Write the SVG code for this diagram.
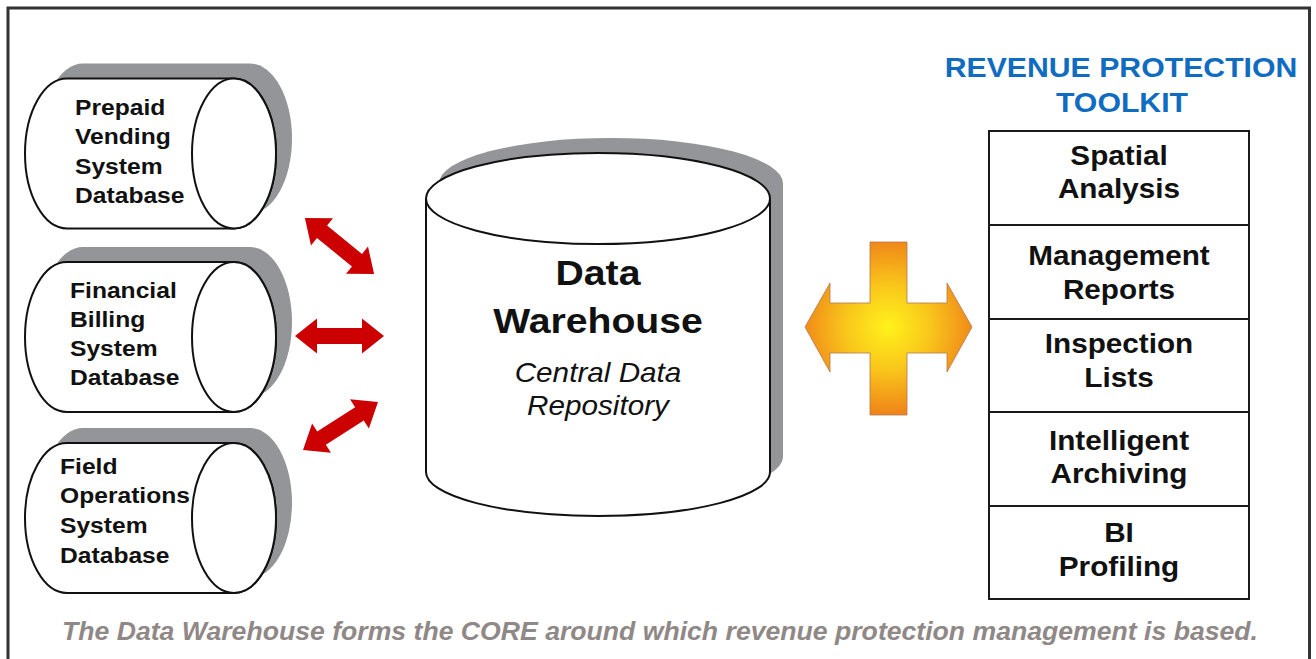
<svg xmlns="http://www.w3.org/2000/svg" width="1316" height="659" viewBox="0 0 1316 659">
<style>
.frame{fill:#fff;stroke:#333;stroke-width:3}
.body{fill:#fff;stroke:#111;stroke-width:2}
.shadow{fill:#939598;stroke:none}
.lbl{font-family:"Liberation Sans",Arial,sans-serif;font-weight:bold;fill:#111}
.cyl{font-size:22px}
.dw{font-size:35px;text-anchor:middle}
.sub{font-family:"Liberation Sans",Arial,sans-serif;font-style:italic;font-size:27px;fill:#111;text-anchor:middle}
.title{font-family:"Liberation Sans",Arial,sans-serif;font-weight:bold;font-size:27px;fill:#0f6cc0;text-anchor:middle}
.box{font-size:27px;text-anchor:middle}
.cell{fill:#fff;stroke:#1a1a1a;stroke-width:2}
.arrow{fill:#cc0000}
.caption{font-family:"Liberation Sans",Arial,sans-serif;font-weight:bold;font-style:italic;font-size:25px;fill:#8f8886}
</style>
<defs>
<path id="hcyl" d="M67,-75 H234 A42,75 0 0 1 234,75 H67 A42,75 0 0 1 67,-75 Z"/>
<path id="darrow" d="M-44.5,0 L-22.5,-17.5 L-22.5,-8 L22.5,-8 L22.5,-17.5 L44.5,0 L22.5,17.5 L22.5,8 L-22.5,8 L-22.5,17.5 Z"/>
<radialGradient id="og" cx="888" cy="327" r="95" gradientUnits="userSpaceOnUse">
<stop offset="0" stop-color="#fff21c"/>
<stop offset="0.45" stop-color="#f9c61b"/>
<stop offset="1" stop-color="#ee7a18"/>
</radialGradient>
</defs>
<rect class="frame" x="8" y="8" width="1301.5" height="670"/>

<g id="prepaid-db">
<use href="#hcyl" class="shadow" transform="translate(16,138.5)"/>
<use href="#hcyl" class="body" transform="translate(0,153.5)"/>
<ellipse class="body" cx="234" cy="153.5" rx="42" ry="75"/>
<g class="lbl cyl">
<text transform="translate(75,0) scale(1.12,1)" x="0" y="115">Prepaid</text>
<text transform="translate(75,0) scale(1.12,1)" x="0" y="144.5">Vending</text>
<text transform="translate(75,0) scale(1.12,1)" x="0" y="174">System</text>
<text transform="translate(75,0) scale(1.12,1)" x="0" y="203.5">Database</text>
</g>
</g>

<g id="billing-db">
<use href="#hcyl" class="shadow" transform="translate(16,322)"/>
<use href="#hcyl" class="body" transform="translate(0,337)"/>
<ellipse class="body" cx="234" cy="337" rx="42" ry="75"/>
<g class="lbl cyl">
<text transform="translate(70,0) scale(1.12,1)" x="0" y="298">Financial</text>
<text transform="translate(70,0) scale(1.12,1)" x="0" y="327">Billing</text>
<text transform="translate(70,0) scale(1.12,1)" x="0" y="356">System</text>
<text transform="translate(70,0) scale(1.12,1)" x="0" y="385">Database</text>
</g>
</g>

<g id="field-db">
<use href="#hcyl" class="shadow" transform="translate(16,503)"/>
<use href="#hcyl" class="body" transform="translate(0,518)"/>
<ellipse class="body" cx="234" cy="518" rx="42" ry="75"/>
<g class="lbl cyl">
<text transform="translate(60,0) scale(1.12,1)" x="0" y="474">Field</text>
<text transform="translate(60,0) scale(1.12,1)" x="0" y="503.5">Operations</text>
<text transform="translate(60,0) scale(1.12,1)" x="0" y="533">System</text>
<text transform="translate(60,0) scale(1.12,1)" x="0" y="563">Database</text>
</g>
</g>

<g id="data-warehouse">
<path class="shadow" d="M439,183.5 V457 A172,44 0 0 0 783,457 V183.5 A172,45.5 0 0 0 439,183.5 Z"/>
<path class="body" d="M426,198.5 V472 A172,44 0 0 0 770,472 V198.5"/>
<ellipse class="body" cx="598" cy="198.5" rx="172" ry="45.5"/>
<text class="lbl dw" transform="translate(598,0) scale(1.12,1)" x="0" y="285">Data</text>
<text class="lbl dw" transform="translate(598,0) scale(1.12,1)" x="0" y="333">Warehouse</text>
<text class="sub" transform="translate(598,0) scale(1.1,1)" x="0" y="382">Central Data</text>
<text class="sub" transform="translate(598,0) scale(1.1,1)" x="0" y="415">Repository</text>
</g>

<g id="toolkit-title">
<text class="title" transform="translate(1121,0) scale(1.12,1)" x="0" y="77">REVENUE PROTECTION</text>
<text class="title" transform="translate(1122,0) scale(1.12,1)" x="0" y="112">TOOLKIT</text>
</g>

<g id="spatial-analysis">
<rect class="cell" x="989" y="131" width="260" height="94"/>
<text class="lbl box" transform="translate(1119,0) scale(1.1,1)" x="0" y="165">Spatial</text>
<text class="lbl box" transform="translate(1119,0) scale(1.1,1)" x="0" y="198">Analysis</text>
</g>
<g id="management-reports">
<rect class="cell" x="989" y="225" width="260" height="94"/>
<text class="lbl box" transform="translate(1119,0) scale(1.1,1)" x="0" y="265">Management</text>
<text class="lbl box" transform="translate(1119,0) scale(1.1,1)" x="0" y="299">Reports</text>
</g>
<g id="inspection-lists">
<rect class="cell" x="989" y="319" width="260" height="93"/>
<text class="lbl box" transform="translate(1119,0) scale(1.1,1)" x="0" y="353">Inspection</text>
<text class="lbl box" transform="translate(1119,0) scale(1.1,1)" x="0" y="387">Lists</text>
</g>
<g id="intelligent-archiving">
<rect class="cell" x="989" y="412" width="260" height="94"/>
<text class="lbl box" transform="translate(1119,0) scale(1.1,1)" x="0" y="450">Intelligent</text>
<text class="lbl box" transform="translate(1119,0) scale(1.1,1)" x="0" y="483">Archiving</text>
</g>
<g id="bi-profiling">
<rect class="cell" x="989" y="506" width="260" height="93"/>
<text class="lbl box" transform="translate(1119,0) scale(1.1,1)" x="0" y="542">BI</text>
<text class="lbl box" transform="translate(1119,0) scale(1.1,1)" x="0" y="576">Profiling</text>
</g>

<g id="connectors">
<use href="#darrow" class="arrow" transform="translate(339.5,246) rotate(39)"/>
<use href="#darrow" class="arrow" transform="translate(339.5,336)"/>
<use href="#darrow" class="arrow" transform="translate(340.5,426) rotate(-32.6)"/>
<polygon fill="url(#og)" stroke="#b07a50" stroke-width="0.8" points="805,327 830,283 830,303 870,303 870,242 907,242 907,303 947,303 947,283 972,327 947,372 947,353 907,353 907,415 870,415 870,353 830,353 830,372"/>
</g>

<text class="caption" x="62" y="640" textLength="1196" lengthAdjust="spacingAndGlyphs">The Data Warehouse forms the CORE around which revenue protection management is based.</text>
</svg>
